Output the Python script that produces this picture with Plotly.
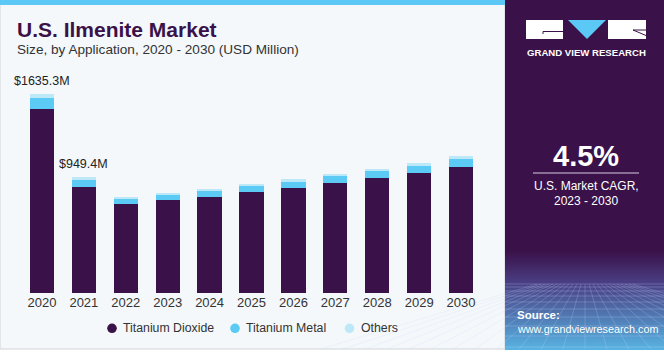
import plotly.graph_objects as go

years = ["2020", "2021", "2022", "2023", "2024", "2025", "2026", "2027", "2028", "2029", "2030"]
titanium_dioxide = [1512, 874, 734, 764, 786, 827, 865, 904, 945, 983, 1036]
titanium_metal = [87, 55, 35, 41, 49, 49, 55, 54, 54, 63, 62]
others = [36.3, 20.4, 20, 19, 20, 20, 16, 20, 20, 22, 28]
value_labels = {"2020": "$1635.3M", "2021": "$949.4M"}
legend_names = ["Titanium Dioxide", "Titanium Metal", "Others"]

W, H = 664, 355
PURPLE = "#3A1149"
BLUE = "#5BCBF5"
LIGHT = "#BDE8F8"
FONT = "Liberation Sans"


def px(x):
    return x / W


def py(y):
    return 1 - y / H


fig = go.Figure()
series = [(legend_names[0], titanium_dioxide, PURPLE),
          (legend_names[1], titanium_metal, BLUE),
          (legend_names[2], others, LIGHT)]
for name, vals, col in series:
    fig.add_trace(go.Bar(x=years, y=vals, name=name, showlegend=False,
                         marker=dict(color=col, line=dict(width=0))))

totals = [a + b + c for a, b, c in zip(titanium_dioxide, titanium_metal, others)]

shapes = []
shapes.append(dict(type="rect", xref="paper", yref="paper", x0=px(0), x1=px(505), y0=py(349), y1=py(0),
                   fillcolor="#F4F8FB", line=dict(color="#D0D4D8", width=1), layer="below"))
shapes.append(dict(type="rect", xref="paper", yref="paper", x0=px(0), x1=px(505), y0=py(5), y1=py(0),
                   fillcolor="#5BC8F5", line=dict(width=0), layer="below"))
shapes.append(dict(type="rect", xref="paper", yref="paper", x0=px(505), x1=px(664), y0=py(349), y1=py(0),
                   fillcolor=PURPLE, line=dict(width=0), layer="below"))


def lerp(c1, c2, t):
    a = [int(c1[i:i + 2], 16) for i in (1, 3, 5)]
    b = [int(c2[i:i + 2], 16) for i in (1, 3, 5)]
    return "rgb(%d,%d,%d)" % tuple(round(a[k] + (b[k] - a[k]) * t) for k in range(3))


stops = [(250, "#3A1149"), (282, "#4A3F84"), (349, "#58B4E2")]
y = 250
while y < 349:
    for (ya, ca), (yb, cb) in zip(stops[:-1], stops[1:]):
        if ya <= y < yb:
            c = lerp(ca, cb, (y - ya) / (yb - ya))
    shapes.append(dict(type="rect", xref="paper", yref="paper", x0=px(505), x1=px(664), y0=py(y + 2), y1=py(y),
                       fillcolor=c, line=dict(width=0), layer="below"))
    y += 2
hy = [284, 287, 291, 296, 302, 309, 317, 326, 336, 347]
for yy in hy:
    shapes.append(dict(type="line", xref="paper", yref="paper", x0=px(505), x1=px(664), y0=py(yy), y1=py(yy),
                       line=dict(color="rgba(200,220,255,0.25)", width=1), layer="below"))
vx = 585
for k in range(-12, 13):
    shapes.append(dict(type="line", xref="paper", yref="paper", x0=px(vx + k * 4), x1=px(vx + k * 22),
                       y0=py(284), y1=py(349), line=dict(color="rgba(200,220,255,0.22)", width=1), layer="below"))
# logo
shapes.append(dict(type="rect", xref="paper", yref="paper", x0=px(526), x1=px(563), y0=py(39), y1=py(20),
                   fillcolor="white", line=dict(width=0)))
shapes.append(dict(type="line", xref="paper", yref="paper", x0=px(543), x1=px(563), y0=py(31.5), y1=py(31.5),
                   line=dict(color=PURPLE, width=1)))
shapes.append(dict(type="line", xref="paper", yref="paper", x0=px(543), x1=px(543), y0=py(31.5), y1=py(34),
                   line=dict(color=PURPLE, width=1)))
shapes.append(dict(type="path", xref="paper", yref="paper",
                   path="M %f %f L %f %f L %f %f Z" % (px(568), py(20), px(606), py(20), px(587), py(39)),
                   fillcolor="#5BC8F5", line=dict(width=0)))
shapes.append(dict(type="rect", xref="paper", yref="paper", x0=px(608), x1=px(646), y0=py(39), y1=py(20),
                   fillcolor="white", line=dict(width=0)))
shapes.append(dict(type="line", xref="paper", yref="paper", x0=px(633), x1=px(646), y0=py(30), y1=py(35.5),
                   line=dict(color=PURPLE, width=1)))
shapes.append(dict(type="line", xref="paper", yref="paper", x0=px(633), x1=px(646), y0=py(30), y1=py(30),
                   line=dict(color=PURPLE, width=1)))
shapes.append(dict(type="line", xref="paper", yref="paper", x0=px(533), x1=px(639), y0=py(173), y1=py(173),
                   line=dict(color="#D8CCE0", width=1.2)))

annotations = []
for i, (yr, t) in enumerate(zip(years, totals)):
    if yr in value_labels:
        annotations.append(dict(x=i, y=t, xref="x", yref="y", text=value_labels[yr], showarrow=False,
                                yanchor="bottom", yshift=4, font=dict(family=FONT, size=12.5, color="#222222")))


def txt(x, y, s, size, color, xanchor="left", bold=False, family=FONT):
    annotations.append(dict(x=px(x), y=py(y), xref="paper", yref="paper", text=("<b>%s</b>" % s) if bold else s,
                            showarrow=False, xanchor=xanchor, yanchor="middle",
                            font=dict(family=family, size=size, color=color)))


# manual legend (circle markers)
legend_marker_x = [112, 235, 349.5]
for (name, vals, col), mx in zip(series, legend_marker_x):
    shapes.append(dict(type="circle", xref="paper", yref="paper", x0=px(mx - 4.8), x1=px(mx + 4.8),
                       y0=py(328.3 + 4.8), y1=py(328.3 - 4.8), fillcolor=col, line=dict(width=0)))
    txt(mx + 9, 328, name, 12.3, "#333333")

txt(15, 29, "U.S. Ilmenite Market", 21, PURPLE, bold=True)
txt(15, 49, "Size, by Application, 2020 - 2030 (USD Million)", 13.6, "#333333")
txt(586, 52, "GRAND VIEW RESEARCH", 9.6, "white", xanchor="center", bold=True)
txt(586, 156, "4.5%", 29, "white", xanchor="center", bold=True)
txt(586, 186, "U.S. Market CAGR,", 12, "white", xanchor="center")
txt(586, 201, "2023 - 2030", 12, "white", xanchor="center")
txt(515, 315, "Source:", 11.5, "white", bold=True)
txt(515, 329, "www.grandviewresearch.com", 10.8, "white")

fig.update_layout(
    width=W, height=H, margin=dict(l=0, r=0, t=0, b=0),
    paper_bgcolor="white", plot_bgcolor="rgba(0,0,0,0)",
    barmode="stack", bargap=0.42,
    showlegend=False,
    xaxis=dict(type="category", range=[-0.5, len(years) - 0.5], domain=[px(21), px(482)], showgrid=False,
               zeroline=False, showline=False, ticks="", tickfont=dict(family=FONT, size=13, color="#333333")),
    yaxis=dict(domain=[py(293), py(80)], range=[0, 1750], visible=False),
    shapes=shapes, annotations=annotations,
    font=dict(family=FONT),
)
fig.write_html("out.html", config={"displayModeBar": False})
with open("out.html", encoding="utf-8") as f:
    html = f.read()
html = html.replace("<head>", "<head><style>html,body{margin:0;padding:0;overflow:hidden;}</style>", 1)
with open("out.html", "w", encoding="utf-8") as f:
    f.write(html)
